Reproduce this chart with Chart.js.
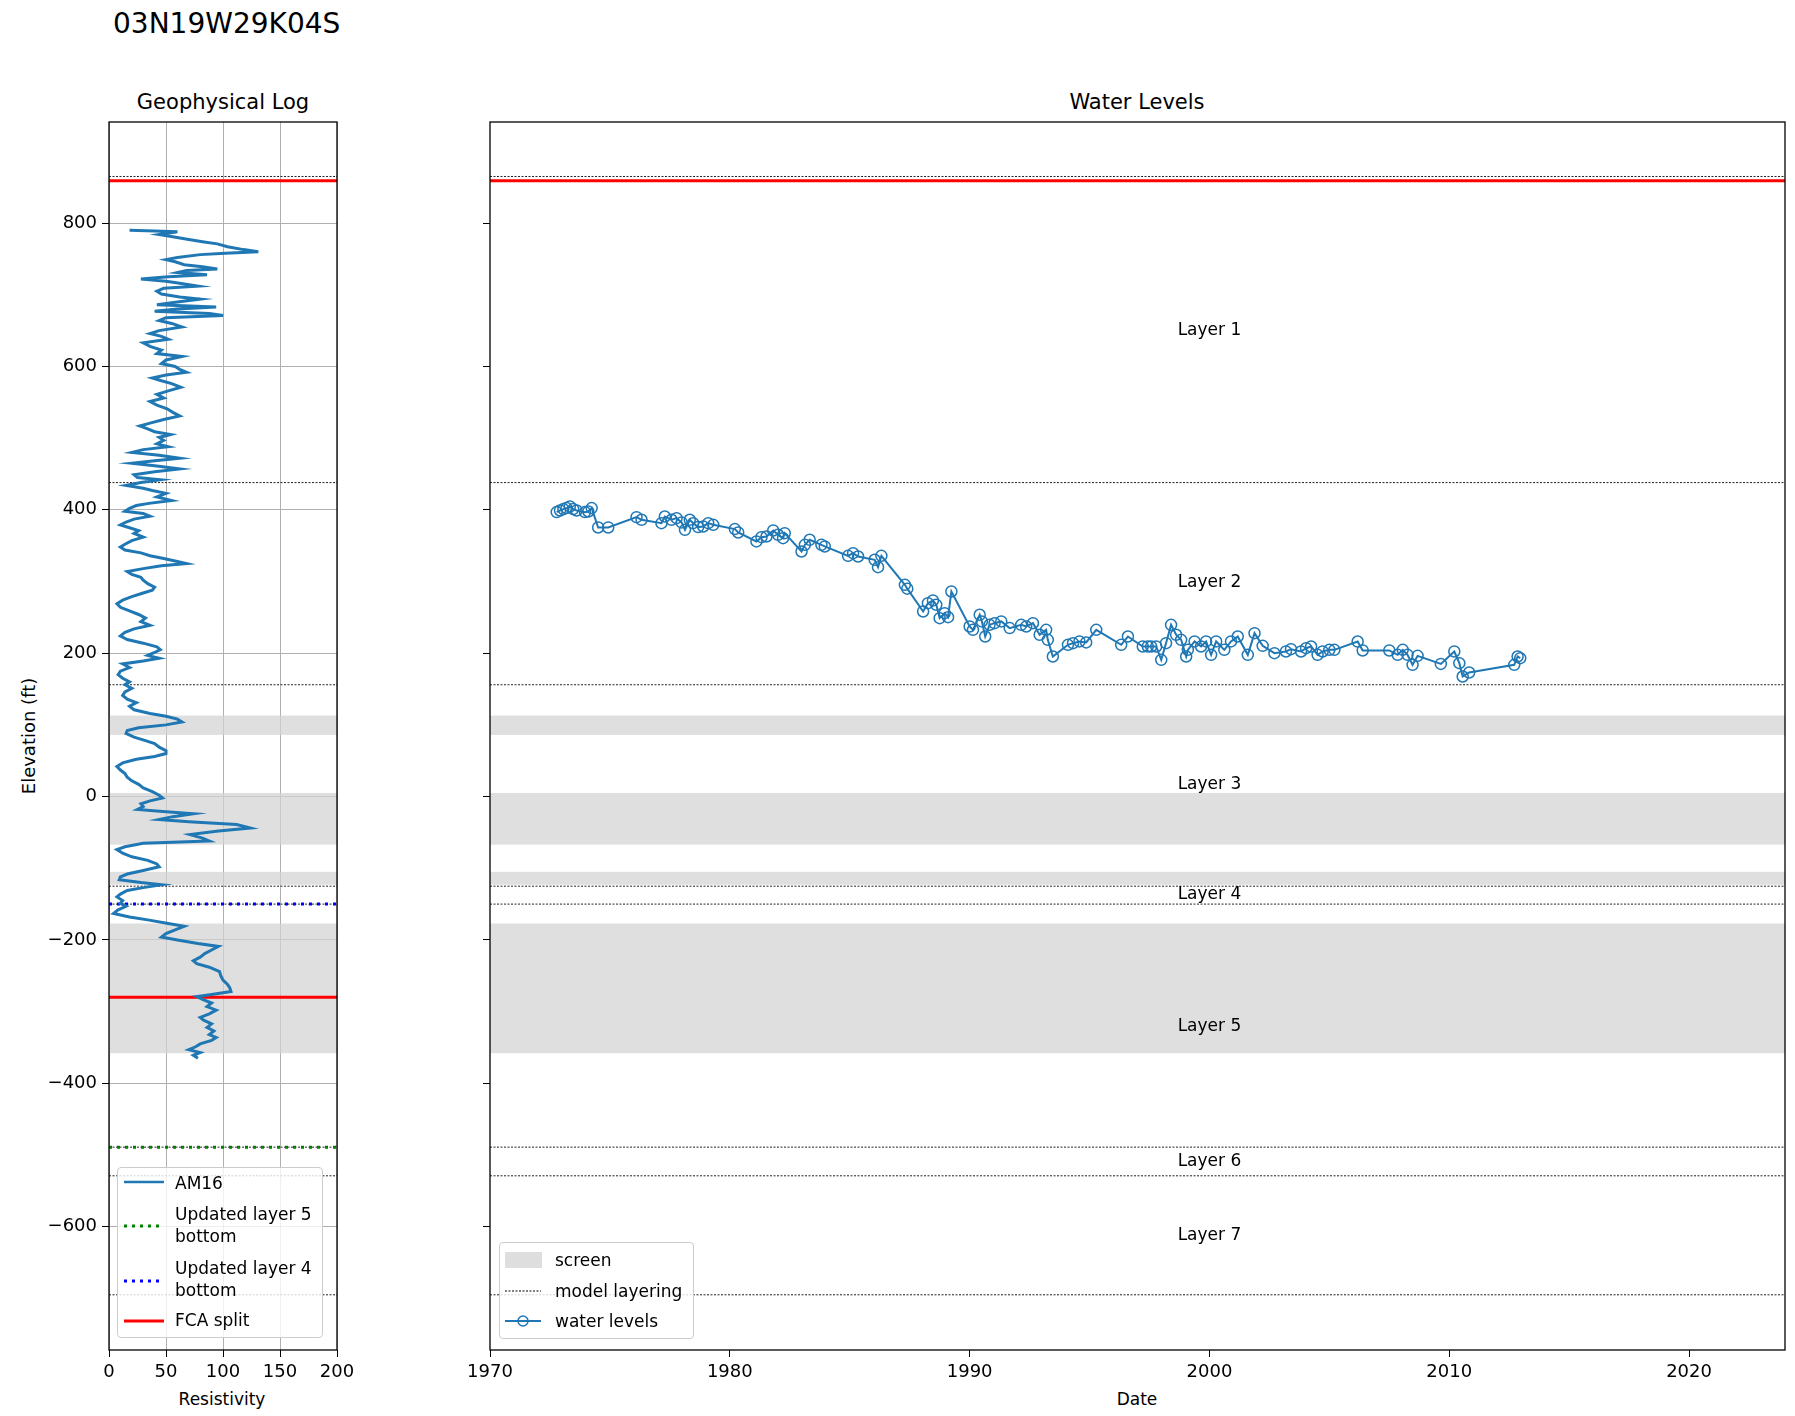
<!DOCTYPE html>
<html>
<head>
<meta charset="utf-8">
<title>03N19W29K04S</title>
<script src="https://cdn.jsdelivr.net/npm/chart.js@4.4.1/dist/chart.umd.min.js"></script>
<style>
  body { margin: 0; background: #fff; font-family: 'DejaVu Sans', sans-serif; color: #000; }
  #page { position: relative; width: 1795px; height: 1416px; overflow: hidden; }
  canvas { position: absolute; top: 0; }
  .txt { position: absolute; white-space: nowrap; line-height: 1; transform: translate(-50%, -50%); }
  .legend { position: absolute; background: rgba(255, 255, 255, 0.8); border: 1px solid #cccccc; border-radius: 4px; box-sizing: border-box; }
  .legend .row { position: absolute; font-size: 17px; line-height: 22.3px; white-space: nowrap; }
  .legend svg { position: absolute; overflow: visible; }
</style>
</head>
<body>
<div id="page">
  <div class="txt" style="left:113px; top:24px; font-size:28px; transform:translateY(-50%);">03N19W29K04S</div>
  <div class="txt" style="left:223px; top:102px; font-size:21px;">Geophysical Log</div>
  <div class="txt" style="left:1137px; top:102px; font-size:21px;">Water Levels</div>
  <div class="txt" style="left:222px; top:1399px; font-size:17px;">Resistivity</div>
  <div class="txt" style="left:1137px; top:1399px; font-size:17px;">Date</div>
  <div class="txt" style="left:29px; top:736px; font-size:18px; transform:translate(-50%, -50%) rotate(-90deg);">Elevation (ft)</div>

  <canvas id="logChart" width="380" height="1416" style="left:0"></canvas>
  <canvas id="wlChart" width="1415" height="1416" style="left:380px"></canvas>

  <div class="legend" style="left:117px; top:1167px; width:206px; height:171px;">
    <svg style="left:6px; top:14px" width="40" height="1"><line x1="0" y1="0" x2="40" y2="0" stroke="#1f77b4" stroke-width="2.5"/></svg>
    <div class="row" style="left:57px; top:3.5px;">AM16</div>
    <svg style="left:6px; top:58px" width="40" height="1"><line x1="0" y1="0" x2="40" y2="0" stroke="#008000" stroke-width="3" stroke-dasharray="3 5"/></svg>
    <div class="row" style="left:57px; top:34.5px;">Updated layer 5<br>bottom</div>
    <svg style="left:6px; top:113px" width="40" height="1"><line x1="0" y1="0" x2="40" y2="0" stroke="#0000ff" stroke-width="3" stroke-dasharray="3 5"/></svg>
    <div class="row" style="left:57px; top:89px;">Updated layer 4<br>bottom</div>
    <svg style="left:6px; top:153px" width="40" height="1"><line x1="0" y1="0" x2="40" y2="0" stroke="#ff0000" stroke-width="3"/></svg>
    <div class="row" style="left:57px; top:141px;">FCA split</div>
  </div>

  <div class="legend" style="left:499px; top:1242px; width:195px; height:97px;">
    <svg style="left:5px; top:9px" width="37" height="16"><rect x="0" y="0" width="37" height="16" fill="rgba(211,211,211,0.75)"/></svg>
    <div class="row" style="left:55px; top:6px;">screen</div>
    <svg style="left:5px; top:48px" width="36" height="1"><line x1="0" y1="0" x2="36" y2="0" stroke="#000" stroke-width="1" stroke-dasharray="2 1.5"/></svg>
    <div class="row" style="left:55px; top:37px;">model layering</div>
    <svg style="left:5px; top:78px" width="36" height="1"><line x1="0" y1="0" x2="36" y2="0" stroke="#1f77b4" stroke-width="2"/><circle cx="18" cy="0" r="5" fill="none" stroke="#1f77b4" stroke-width="1.5"/></svg>
    <div class="row" style="left:55px; top:67px;">water levels</div>
  </div>
</div>

<script>
// --- axis setup ---
const elevMin = -772;
const elevMax = 941;
const elevTicks = [-600, -400, -200, 0, 200, 400, 600, 800];
const elevTickLabels = ['\u2212600', '\u2212400', '\u2212200', '0', '200', '400', '600', '800'];
const resMin = 0;
const resMax = 200;
const resTicks = [0, 50, 100, 150, 200];
const resTickLabels = ['0', '50', '100', '150', '200'];
const yearMin = 1970;
const yearMax = 2024;
const yearTicks = [1970, 1980, 1990, 2000, 2010, 2020];
const yearTickLabels = ['1970', '1980', '1990', '2000', '2010', '2020'];

// --- layering / screens ---
const modelLayering = [865, 438, 156, -125, -150, -489, -529, -695];
const fcaSplitLog = [859, -280];
const fcaSplitWl = [859];
const updatedLayer5Bottom = [-489];
const updatedLayer4Bottom = [-150];
const screenTop = [113, 5, -105, -177];
const screenBottom = [86, -67, -123, -358];
const layerNames = ['Layer 1', 'Layer 2', 'Layer 3', 'Layer 4', 'Layer 5', 'Layer 6', 'Layer 7'];
const layerLabelElev = [650, 299, 17, -137, -321, -509, -612];
const layerLabelYear = 2000;

// --- geophysical log (AM16) ---
const logElev = [
  790, 789, 788, 784, 782, 777, 774, 771, 767, 763,
  760, 758, 756, 752, 749, 746, 742, 739, 736, 734,
  731, 728, 725, 722, 719, 716, 712, 709, 705, 701,
  697, 694, 690, 686, 683, 680, 677, 674, 671, 668,
  664, 660, 655, 650, 646, 642, 638, 633, 628, 623,
  618, 614, 609, 604, 600, 596, 592, 588, 584, 580,
  576, 571, 566, 561, 556, 551, 546, 541, 536, 531,
  526, 521, 517, 513, 509, 505, 501, 497, 492, 488,
  484, 480, 476, 472, 468, 465, 461, 457, 453, 449,
  445, 442, 438, 434, 430, 427, 423, 418, 413, 409,
  406, 402, 398, 395, 391, 387, 383, 379, 375, 371,
  367, 362, 357, 352, 348, 344, 340, 336, 332, 328,
  325, 322, 318, 314, 310, 306, 302, 297, 292, 288,
  284, 279, 274, 269, 264, 259, 254, 249, 244, 239,
  234, 229, 224, 219, 214, 209, 205, 201, 197, 193,
  189, 185, 180, 175, 170, 165, 160, 156, 151, 146,
  141, 136, 131, 126, 121, 116, 112, 108, 104, 100,
  96, 92, 88, 83, 78, 74, 69, 64, 60, 56,
  52, 47, 42, 37, 32, 27, 22, 17, 12, 7,
  2, -2, -6, -10, -14, -18, -21, -24, -28, -32,
  -35, -39, -44, -48, -53, -58, -62, -65, -70, -74,
  -79, -84, -89, -94, -98, -103, -108, -112, -116, -120,
  -123, -127, -131, -136, -140, -145, -149, -153, -158, -163,
  -168, -172, -177, -181, -186, -191, -196, -200, -205, -209,
  -214, -219, -224, -229, -233, -238, -244, -250, -256, -262,
  -267, -272, -276, -279, -283, -288, -293, -298, -303, -308,
  -312, -317, -322, -327, -332, -336, -340, -345, -349, -353,
  -357, -361, -365];
const logRes = [
  18, 40, 60, 44, 52, 70, 82, 95, 104, 118,
  131, 102, 80, 60, 50, 58, 66, 82, 95, 68,
  60, 86, 52, 28, 50, 62, 78, 48, 42, 46,
  62, 80, 60, 42, 94, 60, 40, 88, 100, 50,
  44, 55, 64, 44, 36, 46, 52, 30, 36, 46,
  42, 64, 50, 46, 58, 62, 68, 50, 38, 46,
  55, 63, 52, 42, 48, 36, 42, 51, 56, 62,
  48, 36, 27, 34, 40, 54, 44, 48, 42, 52,
  30, 20, 44, 62, 38, 20, 42, 62, 40, 22,
  25, 45, 28, 15, 30, 38, 50, 42, 55, 35,
  24, 18, 14, 30, 36, 22, 15, 10, 18, 26,
  22, 30, 20, 14, 10, 14, 28, 36, 48, 60,
  68, 46, 30, 16, 20, 28, 30, 34, 40, 38,
  30, 20, 12, 7, 10, 18, 26, 32, 28, 36,
  22, 14, 10, 16, 30, 42, 45, 40, 34, 44,
  30, 12, 18, 10, 8, 12, 18, 14, 20, 14,
  12, 16, 24, 18, 22, 36, 50, 60, 64, 50,
  26, 16, 15, 22, 32, 40, 44, 50, 50, 40,
  24, 12, 7, 10, 14, 16, 20, 26, 30, 38,
  44, 47, 36, 28, 30, 25, 50, 74, 56, 44,
  70, 112, 124, 96, 71, 82, 88, 30, 14, 7,
  12, 20, 34, 42, 44, 30, 16, 10, 9, 28,
  46, 30, 16, 10, 7, 12, 10, 15, 8, 4,
  18, 34, 52, 66, 58, 50, 46, 60, 78, 96,
  90, 84, 80, 74, 77, 88, 97, 98, 100, 104,
  106, 107, 90, 77, 82, 90, 86, 94, 88, 80,
  83, 90, 86, 92, 88, 94, 90, 80, 76, 70,
  80, 74, 78];

// --- water levels ---
const wlYear = [1972.78, 1972.92, 1973.06, 1973.19, 1973.33, 1973.47, 1973.61, 1973.96, 1974.10, 1974.24, 1974.51, 1974.93, 1976.11, 1976.32, 1977.15, 1977.29, 1977.57, 1977.78, 1977.99, 1978.13,
  1978.33, 1978.47, 1978.68, 1978.89, 1979.10, 1979.31, 1980.21, 1980.35, 1981.11, 1981.32, 1981.53, 1981.81, 1982.01, 1982.22, 1982.29, 1982.99, 1983.13, 1983.33, 1983.82, 1983.96,
  1984.93, 1985.14, 1985.35, 1986.04, 1986.18, 1986.32, 1987.30, 1987.40, 1988.06, 1988.26, 1988.47, 1988.61, 1988.75, 1988.96, 1989.10, 1989.24, 1990.00, 1990.14, 1990.42, 1990.51,
  1990.65, 1990.83, 1991.04, 1991.32, 1991.67, 1992.15, 1992.36, 1992.64, 1992.92, 1993.19, 1993.26, 1993.47, 1994.10, 1994.31, 1994.58, 1994.86, 1995.28, 1996.32, 1996.60, 1997.22,
  1997.43, 1997.57, 1997.78, 1997.99, 1998.19, 1998.40, 1998.61, 1998.82, 1999.03, 1999.10, 1999.38, 1999.65, 1999.86, 2000.07, 2000.28, 2000.62, 2000.90, 2001.18, 2001.60, 2001.88,
  2002.22, 2002.71, 2003.19, 2003.40, 2003.82, 2004.03, 2004.24, 2004.51, 2004.72, 2005.00, 2005.21, 2006.18, 2006.39, 2007.50, 2007.85, 2008.06, 2008.26, 2008.47, 2008.68, 2009.65,
  2010.21, 2010.42, 2010.56, 2010.83, 2012.71, 2012.85, 2012.96];
const wlElev = [396.8, 399.1, 401.0, 402.4, 404.7, 401.0, 399.1, 396.8, 397.7, 402.4, 375.4, 375.4, 389.8, 386.1, 381.4, 390.7, 386.1, 388.4, 382.4, 372.1,
  386.1, 381.4, 375.9, 376.8, 381.4, 379.1, 373.1, 368.4, 355.9, 361.9, 362.8, 371.2, 365.2, 360.5, 367.5, 341.9, 351.2, 358.2, 351.2, 348.9,
  335.8, 339.6, 334.9, 330.3, 320.0, 335.8, 295.4, 290.0, 258.2, 269.8, 273.6, 267.5, 248.9, 255.9, 250.3, 286.1, 237.3, 232.6, 253.6, 244.3,
  223.3, 239.6, 241.9, 244.3, 235.0, 239.6, 237.3, 241.9, 225.7, 232.6, 218.7, 195.4, 211.7, 214.0, 216.4, 215.0, 232.6, 211.7, 223.3, 209.4,
  209.4, 209.4, 209.4, 190.8, 214.0, 239.6, 225.7, 218.7, 195.4, 204.7, 216.4, 209.4, 216.4, 197.7, 216.4, 204.7, 216.4, 223.3, 197.7, 227.9,
  210.3, 200.0, 202.4, 205.6, 202.4, 207.0, 209.3, 197.7, 202.4, 204.7, 204.7, 216.3, 203.8, 203.8, 197.7, 204.7, 197.7, 183.8, 196.3, 185.1,
  202.4, 186.1, 167.5, 173.1, 183.8, 195.4, 193.1];

const tickFont = { family: "'DejaVu Sans', sans-serif", size: 18 };
const blue = '#1f77b4';

function hline(value, xMin, xMax, color, width, dash) {
  return {
    data: [{ x: xMin, y: value }, { x: xMax, y: value }],
    showLine: true,
    borderColor: color,
    borderWidth: width,
    borderDash: dash || [],
    pointRadius: 0
  };
}

// screens, frame and layer names
const panelDecor = {
  id: 'panelDecor',
  beforeDatasetsDraw(chart) {
    const { ctx, chartArea: a, scales: { y } } = chart;
    ctx.save();
    ctx.fillStyle = 'rgba(211, 211, 211, 0.72)';
    screenTop.forEach((top, i) => {
      const y1 = y.getPixelForValue(top);
      const y2 = y.getPixelForValue(screenBottom[i]);
      ctx.fillRect(a.left, y1, a.right - a.left, y2 - y1);
    });
    ctx.restore();
  },
  afterDraw(chart, args, opts) {
    const { ctx, chartArea: a, scales: { x, y } } = chart;
    ctx.save();
    if (opts.layerNames) {
      ctx.font = "17px 'DejaVu Sans', sans-serif";
      ctx.fillStyle = '#000';
      ctx.textAlign = 'center';
      ctx.textBaseline = 'middle';
      layerNames.forEach((name, i) => {
        ctx.fillText(name, x.getPixelForValue(layerLabelYear), y.getPixelForValue(layerLabelElev[i]));
      });
    }
    ctx.strokeStyle = '#000';
    ctx.lineWidth = 1.3;
    ctx.strokeRect(a.left, a.top, a.right - a.left, a.bottom - a.top);
    ctx.restore();
  }
};

function yScale(showLabels, gridOnArea, width) {
  return {
    type: 'linear',
    min: elevMin,
    max: elevMax,
    afterBuildTicks: (s) => { s.ticks = elevTicks.map((v) => ({ value: v })); },
    afterFit: (s) => { s.width = width; },
    border: { display: false },
    grid: { drawOnChartArea: gridOnArea, color: '#b0b0b0', lineWidth: 1, tickColor: '#000', tickLength: 7 },
    ticks: { display: showLabels, font: tickFont, color: '#000', padding: 5, callback: (v, i) => elevTickLabels[i] }
  };
}

const baseOptions = {
  responsive: false,
  animation: false,
  events: [],
  plugins: { legend: { display: false }, tooltip: { enabled: false }, title: { display: false } }
};

// Geophysical log
new Chart(document.getElementById('logChart'), {
  type: 'scatter',
  data: {
    datasets: [
      { data: logElev.map((e, i) => ({ x: logRes[i], y: e })), showLine: true, borderColor: blue, borderWidth: 3, pointRadius: 0 },
      ...fcaSplitLog.map((v) => hline(v, resMin, resMax, '#ff0000', 3)),
      ...updatedLayer4Bottom.map((v) => hline(v, resMin, resMax, '#0000ff', 3, [3, 5])),
      ...updatedLayer5Bottom.map((v) => hline(v, resMin, resMax, '#008000', 3, [3, 5])),
      ...modelLayering.map((v) => hline(v, resMin, resMax, '#222', 1, [2, 1.5]))
    ]
  },
  options: {
    ...baseOptions,
    layout: { padding: { top: 122, right: 43, bottom: 0, left: 0 } },
    plugins: { ...baseOptions.plugins, panelDecor: { layerNames: false } },
    scales: {
      x: {
        type: 'linear',
        min: resMin,
        max: resMax,
        afterBuildTicks: (s) => { s.ticks = resTicks.map((v) => ({ value: v })); },
        afterFit: (s) => { s.height = 66; },
        border: { display: false },
        grid: { color: '#b0b0b0', lineWidth: 1, tickColor: '#000', tickLength: 7 },
        ticks: { font: tickFont, color: '#000', padding: 5, maxRotation: 0, callback: (v, i) => resTickLabels[i] }
      },
      y: yScale(true, true, 109)
    }
  },
  plugins: [panelDecor]
});

// Water levels
new Chart(document.getElementById('wlChart'), {
  type: 'scatter',
  data: {
    datasets: [
      {
        data: wlYear.map((t, i) => ({ x: t, y: wlElev[i] })),
        showLine: true,
        borderColor: blue,
        borderWidth: 2,
        pointRadius: 5.5,
        pointStyle: 'circle',
        pointBackgroundColor: 'rgba(0,0,0,0)',
        pointBorderColor: blue,
        pointBorderWidth: 1.5
      },
      ...fcaSplitWl.map((v) => hline(v, yearMin, yearMax, '#ff0000', 3)),
      ...modelLayering.map((v) => hline(v, yearMin, yearMax, '#222', 1, [2, 1.5]))
    ]
  },
  options: {
    ...baseOptions,
    layout: { padding: { top: 122, right: 10, bottom: 0, left: 0 } },
    plugins: { ...baseOptions.plugins, panelDecor: { layerNames: true } },
    scales: {
      x: {
        type: 'linear',
        min: yearMin,
        max: yearMax,
        afterBuildTicks: (s) => { s.ticks = yearTicks.map((v) => ({ value: v })); },
        afterFit: (s) => { s.height = 66; },
        border: { display: false },
        grid: { drawOnChartArea: false, tickColor: '#000', tickLength: 7 },
        ticks: { font: tickFont, color: '#000', padding: 5, maxRotation: 0, callback: (v, i) => yearTickLabels[i] }
      },
      y: yScale(false, false, 110)
    }
  },
  plugins: [panelDecor]
});
</script>
</body>
</html>
